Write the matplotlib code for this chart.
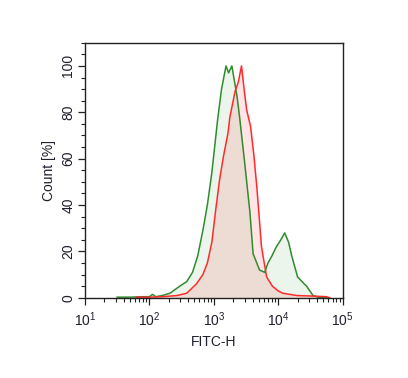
import numpy as np
import matplotlib
matplotlib.use("Agg")
import matplotlib.pyplot as plt
from matplotlib.ticker import FixedLocator, FuncFormatter, MultipleLocator

plt.rcParams["font.family"] = ["Liberation Sans", "DejaVu Sans"]
plt.rcParams["mathtext.fontset"] = "custom"
plt.rcParams["mathtext.rm"] = "Liberation Sans"

# log10(FITC-H) positions and Count [%]
green_log = [1.50, 1.70, 1.90, 2.00, 2.05, 2.10, 2.20, 2.32, 2.47, 2.58, 2.67,
             2.75, 2.83, 2.90, 2.97, 3.06, 3.12, 3.19, 3.23, 3.28, 3.36, 3.40,
             3.48, 3.56, 3.61, 3.71, 3.79, 3.84, 3.90, 3.97, 4.04, 4.10, 4.16,
             4.21, 4.30, 4.37, 4.44, 4.54, 4.62, 4.75]
green_cnt = [0.3, 0.3, 0.5, 0.5, 1.5, 0.5, 1.0, 2.0, 5.0, 7.0, 11.0,
             18.0, 29.0, 40.0, 54.0, 77.0, 90.0, 100.0, 97.0, 100.0, 87.0, 78.0,
             58.0, 37.0, 19.0, 12.0, 11.0, 15.0, 18.0, 22.0, 25.0, 28.0, 24.0,
             18.0, 9.0, 7.0, 5.0, 1.0, 0.3, 0.0]

red_log = [1.80, 2.00, 2.20, 2.43, 2.58, 2.73, 2.83, 2.90, 2.97, 3.03, 3.09,
           3.15, 3.22, 3.25, 3.33, 3.38, 3.43, 3.47, 3.51, 3.57, 3.62, 3.67,
           3.74, 3.82, 3.91, 4.00, 4.07, 4.29, 4.50, 4.75, 4.80]
red_cnt = [0.3, 0.3, 0.5, 1.0, 2.0, 6.0, 10.0, 15.0, 24.0, 38.0, 51.0,
           61.0, 71.0, 78.0, 89.0, 93.0, 100.0, 90.0, 81.0, 74.0, 62.0, 47.0,
           22.0, 9.0, 5.0, 3.0, 2.0, 1.0, 0.8, 0.5, 0.0]

x_min, x_max = 1, 5
y_max = 110

green_x = 10 ** np.array(green_log)
red_x = 10 ** np.array(red_log)

fig = plt.figure(figsize=(4.08, 3.78), dpi=100)
ax = fig.add_axes([0.208, 0.212, 0.632, 0.675])

ax.fill_between(green_x, green_cnt, color="#008000", alpha=0.08, lw=0)
ax.fill_between(red_x, red_cnt, color="#ff0000", alpha=0.1, lw=0)
ax.plot(green_x, green_cnt, color="#2e8b2e", lw=1.1)
ax.plot(red_x, red_cnt, color="#ff2a2a", lw=1.1)

ax.set_xscale("log")
ax.set_xlim(10 ** x_min, 10 ** x_max)
ax.set_ylim(0, y_max)

ax.xaxis.set_major_locator(FixedLocator([10 ** k for k in range(x_min, x_max + 1)]))
ax.xaxis.set_major_formatter(FuncFormatter(lambda v, p: r"$\mathregular{10^{%d}}$" % round(np.log10(v))))
minor = [m * 10 ** k for k in range(x_min, x_max) for m in range(2, 10)]
ax.xaxis.set_minor_locator(FixedLocator(minor))

ax.yaxis.set_major_locator(FixedLocator([0, 20, 40, 60, 80, 100]))
ax.yaxis.set_minor_locator(MultipleLocator(5))

txt = "#1f1f2e"
ax.tick_params(axis="both", which="major", length=5, width=0.9, colors="#222222",
               labelcolor=txt, labelsize=10)
ax.tick_params(axis="both", which="minor", length=3, width=0.8, colors="#222222")
ax.tick_params(axis="y", pad=2)
ax.tick_params(axis="x", pad=4)
for lab in ax.get_yticklabels():
    lab.set_rotation(90)
    lab.set_va("center")

for s in ax.spines.values():
    s.set_color("#222222")
    s.set_linewidth(1.0)

ax.set_xlabel("FITC-H", fontsize=10, color=txt, labelpad=4)
ax.set_ylabel("Count [%]", fontsize=10, color=txt, labelpad=4)

fig.savefig("out.png", dpi=100)
